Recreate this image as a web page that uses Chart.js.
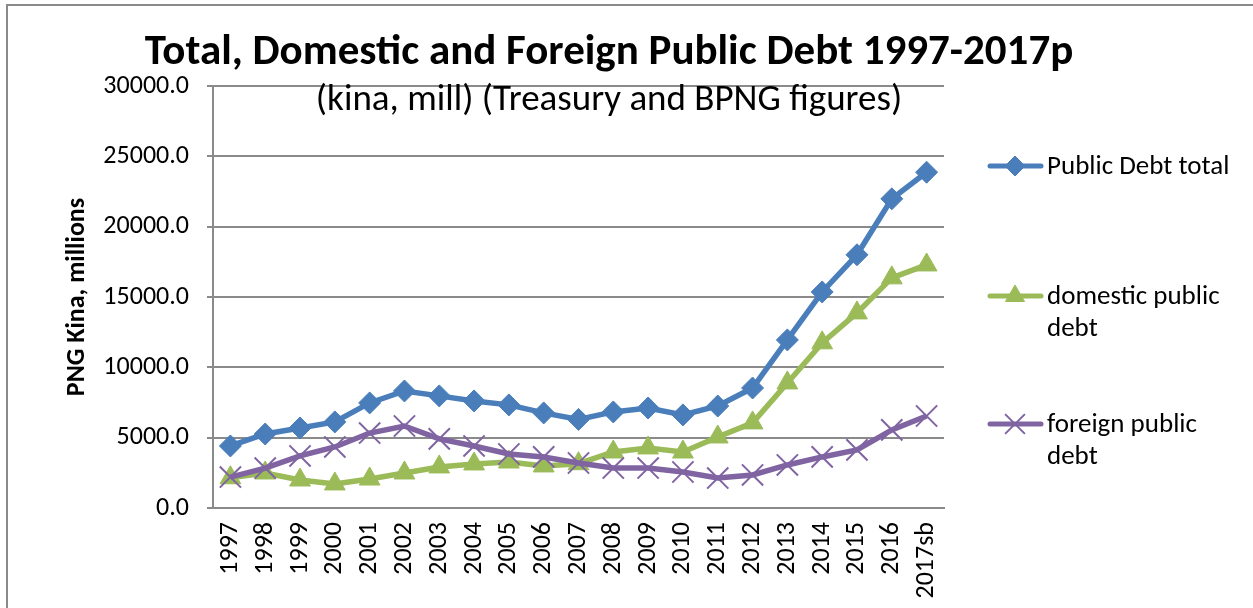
<!DOCTYPE html>
<html>
<head>
<meta charset="utf-8">
<script src="https://cdn.jsdelivr.net/npm/chart.js@4.4.1/dist/chart.umd.min.js"></script>
<style>
  html, body { margin: 0; padding: 0; background: #fff; }
  #wrap { width: 1253px; height: 608px; position: relative; }
</style>
</head>
<body>
<div id="wrap"><canvas id="debtChart"></canvas></div>
<script>
// years on the category axis
const years = ["1997", "1998", "1999", "2000", "2001", "2002", "2003", "2004", "2005", "2006",
    "2007", "2008", "2009", "2010", "2011", "2012", "2013", "2014", "2015", "2016", "2017sb"];

// values (kina, millions)
const totalDebt = [4410, 5260, 5690, 6120, 7470, 8320, 7970, 7610, 7330, 6760,
    6300, 6830, 7110, 6620, 7250, 8530, 11950, 15360, 18000, 21980, 23870];
const domesticDebt = [2150, 2490, 1990, 1710, 2060, 2490, 2920, 3130, 3270, 2990,
    3150, 3980, 4270, 3980, 5050, 6050, 8890, 11740, 13870, 16360, 17280];
const foreignDebt = [2200, 2840, 3700, 4340, 5330, 5830, 4910, 4410, 3840, 3630,
    3200, 2840, 2840, 2560, 2130, 2350, 3060, 3630, 4130, 5550, 6540];

const seriesNames = ["Public Debt total", "domestic public debt", "foreign public debt"];
const yTicks = [0, 5000, 10000, 15000, 20000, 25000, 30000];

const titleText = "Total, Domestic and Foreign Public Debt 1997-2017p";
const subtitleText = "(kina, mill) (Treasury and BPNG figures)";
const yTitleText = "PNG Kina, millions";

const FONT = "Carlito, Calibri, Lato, 'Open Sans', sans-serif";
const GRID = "#8a8a8a";

// title, subtitle, axis title, outer frame and the legend on the right
const extrasPlugin = {
    id: "extras",
    afterDraw(chart) {
        let ctx = chart.ctx;
        ctx.save();
        // outer frame
        ctx.strokeStyle = "#8a8a8a";
        ctx.lineWidth = 2;
        ctx.strokeRect(7, 5, 1400, 800);

        ctx.fillStyle = "#000";
        ctx.textAlign = "center";
        ctx.textBaseline = "alphabetic";
        ctx.font = "bold 43px " + FONT;
        ctx.fillText(titleText, 609, 64);
        ctx.font = "37px " + FONT;
        ctx.fillText(subtitleText, 609, 110);

        // y axis title
        ctx.save();
        ctx.translate(77, 297);
        ctx.rotate(-Math.PI / 2);
        ctx.textBaseline = "middle";
        ctx.font = "bold 26px " + FONT;
        ctx.fillText(yTitleText, 0, 0);
        ctx.restore();

        // legend
        let rows = [
            { y: 166, lines: ["Public Debt total"] },
            { y: 296, lines: ["domestic public", "debt"] },
            { y: 424, lines: ["foreign public", "debt"] }
        ];
        ctx.textAlign = "left";
        ctx.textBaseline = "middle";
        ctx.font = "27px " + FONT;
        rows.forEach((row, i) => {
            let ds = chart.data.datasets[i];
            ctx.strokeStyle = ds.borderColor;
            ctx.fillStyle = ds.borderColor;
            ctx.lineWidth = 5;
            ctx.lineCap = "round";
            ctx.beginPath();
            ctx.moveTo(990, row.y);
            ctx.lineTo(1041, row.y);
            ctx.stroke();
            ctx.lineWidth = ds.pointBorderWidth;
            ctx.lineCap = "butt";
            Chart.helpers.drawPoint(ctx, {
                pointStyle: ds.pointStyle,
                radius: ds.pointRadius - 1,
                borderWidth: ds.pointBorderWidth
            }, 1015, row.y);
            ctx.fillStyle = "#000";
            row.lines.forEach((t, j) => ctx.fillText(t, 1047, row.y + 1 + j * 32));
        });
        ctx.restore();
    }
};

function makeDataset(label, data, color, style, radius, bw, order) {
    return {
        label: label,
        data: data,
        borderColor: color,
        backgroundColor: color,
        pointBackgroundColor: color,
        pointBorderColor: color,
        borderWidth: 5.5,
        pointStyle: style,
        pointRadius: radius,
        pointHoverRadius: radius,
        pointBorderWidth: bw,
        tension: 0,
        order: order
    };
}

let ctx = document.getElementById("debtChart").getContext("2d");
let debtChart = new Chart(ctx, {
    type: "line",
    data: {
        labels: years,
        datasets: [
            makeDataset(seriesNames[0], totalDebt, "#4a7ebb", "rectRot", 11, 1, 2),
            makeDataset(seriesNames[1], domesticDebt, "#9bbb59", "triangle", 12, 1, 1),
            makeDataset(seriesNames[2], foreignDebt, "#8064a2", "crossRot", 15, 2, 0)
        ]
    },
    options: {
        responsive: true,
        maintainAspectRatio: false,
        animation: false,
        layout: { padding: { top: 86, right: 309, left: 0, bottom: 0 } },
        plugins: {
            legend: { display: false },
            title: { display: false },
            tooltip: { enabled: false }
        },
        scales: {
            x: {
                offset: true,
                grid: { display: false, drawTicks: false },
                border: { color: GRID, width: 2 },
                ticks: {
                    color: "#000",
                    font: { family: FONT, size: 26 },
                    minRotation: 90,
                    maxRotation: 90,
                    padding: 14,
                    autoSkip: false
                },
                afterFit(scale) { scale.height = 100; }
            },
            y: {
                min: 0,
                max: 30000,
                afterBuildTicks(scale) {
                    scale.ticks = yTicks.map(v => ({ value: v }));
                },
                grid: { color: GRID, lineWidth: 2, tickLength: 6 },
                border: { color: GRID, width: 2 },
                ticks: {
                    color: "#000",
                    font: { family: FONT, size: 26 },
                    padding: 18,
                    callback: v => v.toFixed(1)
                },
                afterFit(scale) { scale.width = 213; }
            }
        }
    },
    plugins: [extrasPlugin]
});
</script>
</body>
</html>
